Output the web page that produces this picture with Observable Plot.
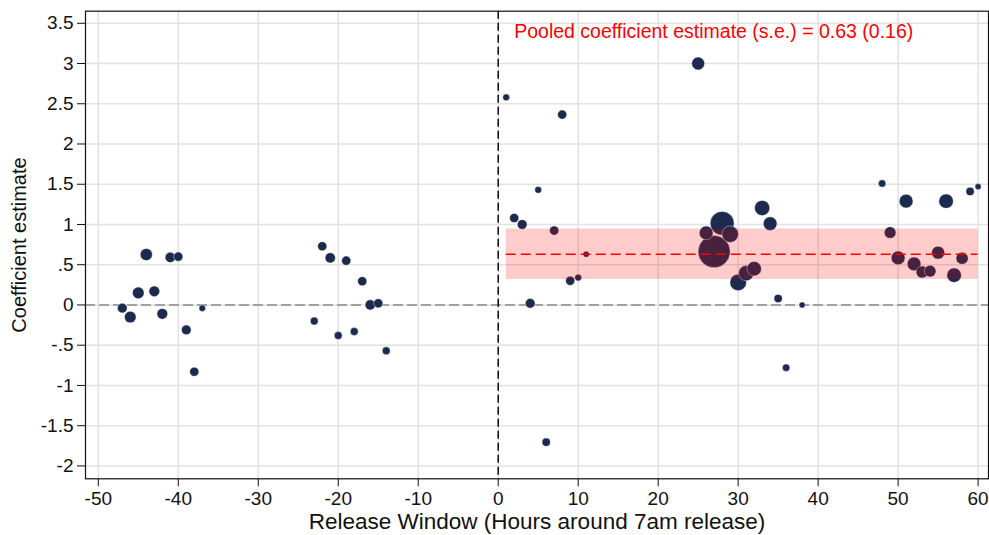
<!DOCTYPE html>
<html>
<head>
<meta charset="utf-8">
<script src="https://cdn.jsdelivr.net/npm/d3@7"></script>
<script src="https://cdn.jsdelivr.net/npm/@observablehq/plot@0.6"></script>
<style>
  body { margin: 0; background: white; }
  #chart svg { display: block; }
</style>
</head>
<body>
<div id="chart"></div>
<script>
// Hours around the 7am release (x), coefficient estimates (y), and precision weights (marker area)
const hours = [-47, -46, -44, -45, -43, -42, -41, -40, -39, -38, -37,
               -23, -22, -21, -20, -19, -18, -17, -16, -15, -14,
               1, 2, 3, 4, 5, 6, 7, 8, 9, 10, 11,
               25, 26, 27, 28, 29, 30, 31, 32, 33, 34, 35, 36, 38,
               48, 49, 50, 51, 52, 53, 54, 55, 56, 57, 58, 59, 60];
const coefs = [-0.04, -0.15, 0.626, 0.15, 0.17, -0.11, 0.59, 0.60, -0.31, -0.83, -0.04,
               -0.20, 0.73, 0.585, -0.38, 0.55, -0.33, 0.295, 0.0, 0.02, -0.57,
               2.58, 1.08, 1.0, 0.02, 1.43, -1.705, 0.924, 2.365, 0.30, 0.34, 0.63,
               3.0, 0.895, 0.663, 1.015, 0.88, 0.28, 0.395, 0.45, 1.205, 1.01, 0.08, -0.78, 0.0,
               1.51, 0.90, 0.585, 1.29, 0.51, 0.41, 0.42, 0.65, 1.29, 0.37, 0.58, 1.41, 1.47];
const weights = [9, 13, 14, 13, 11, 11, 10, 8, 9, 8, 4,
                 6, 8, 10, 6, 8, 6, 8, 10, 8, 6,
                 4.5, 8, 9, 9, 4.5, 6.5, 8, 8, 8, 4.5, 3.6,
                 16, 18, 98, 54, 26, 26, 22, 20, 22, 18, 6.5, 5.3, 3.6,
                 5.3, 13, 18, 18, 18, 14, 13, 16, 20, 20, 14, 6.5, 3.6];

const pooled = 0.63;
const pooledSE = 0.16;
const bandStart = 1;
const bandEnd = 60;

const xTicks = [-50, -40, -30, -20, -10, 0, 10, 20, 30, 40, 50, 60];
const yTicks = [-2, -1.5, -1, -0.5, 0, 0.5, 1, 1.5, 2, 2.5, 3, 3.5];

const xTitle = "Release Window (Hours around 7am release)";
const yTitle = "Coefficient estimate";
const note = `Pooled coefficient estimate (s.e.) = ${pooled.toFixed(2)} (${pooledSE.toFixed(2)})`;

const points = hours.map((h, i) => ({hour: h, coef: coefs[i], w: weights[i]}));
const band = [{x1: bandStart, x2: bandEnd, lo: pooled - 1.96 * pooledSE, hi: pooled + 1.96 * pooledSE}];

const yFmt = d => String(d).replace("0.", ".");
const font = "'Liberation Sans', Arial, sans-serif";

const chart = Plot.plot({
  width: 989,
  height: 535,
  marginLeft: 85,
  marginRight: 1,
  marginTop: 10.7,
  marginBottom: 56.7,
  style: {fontFamily: font, background: "white", color: "#111"},
  x: {domain: [-51.6, 61.3]},
  y: {domain: [-2.16, 3.65]},
  r: {domain: [0, 98], range: [0, 16]},
  marks: [
    Plot.gridX(xTicks, {stroke: "#e2e2e2", strokeOpacity: 1, strokeWidth: 1.5}),
    Plot.gridY(yTicks, {stroke: "#e2e2e2", strokeOpacity: 1, strokeWidth: 1.5}),
    Plot.text([note], {x: 2, y: 3.39, text: d => d, textAnchor: "start", fill: "#ff0000", fontSize: 19.5}),
    Plot.ruleY([0], {stroke: "#8a8a8a", strokeWidth: 1.6, strokeDasharray: "10,4"}),
    Plot.ruleX([0], {stroke: "black", strokeWidth: 1.4, strokeDasharray: "8,4"}),
    Plot.dot(points, {x: "hour", y: "coef", r: "w", fill: "#1b2a4e", fillOpacity: 1, stroke: "white", strokeWidth: 0.4}),
    Plot.rect(band, {x1: "x1", x2: "x2", y1: "lo", y2: "hi", fill: "#ff0000", fillOpacity: 0.2}),
    Plot.ruleY([pooled], {x1: bandStart, x2: bandEnd, stroke: "#ff0000", strokeWidth: 1.6, strokeDasharray: "10,5"}),
    Plot.frame({stroke: "#111", strokeWidth: 1.2}),
    Plot.axisX(xTicks, {tickSize: 8, tickPadding: 5, fontSize: 19, tickFormat: d => String(d), label: null, stroke: "#111"}),
    Plot.axisY(yTicks, {tickSize: 8, tickPadding: 4, fontSize: 19, tickFormat: yFmt, label: null, stroke: "#111"}),
    Plot.text([xTitle], {frameAnchor: "bottom", dy: 50, text: d => d, fontSize: 22.5, fill: "#111"}),
    Plot.text([yTitle], {frameAnchor: "left", dx: -65.5, rotate: -90, textAnchor: "middle", text: d => d, fontSize: 20, fill: "#111"})
  ]
});

document.getElementById("chart").appendChild(chart);
</script>
</body>
</html>
